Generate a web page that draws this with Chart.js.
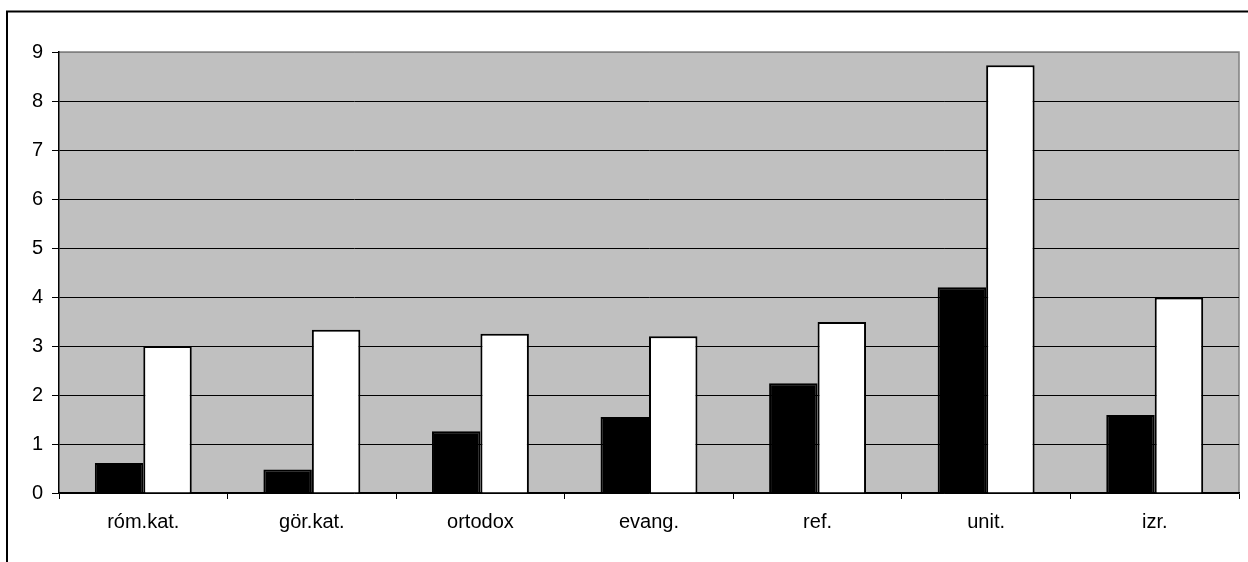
<!DOCTYPE html>
<html>
<head>
<meta charset="utf-8">
<script src="https://cdn.jsdelivr.net/npm/chart.js@4/dist/chart.umd.min.js"></script>
<style>
    html, body { margin: 0; padding: 0; background: #fff; }
    #wrap { width: 1248px; height: 562px; }
</style>
</head>
<body>
<div id="wrap"><canvas id="chart" width="1248" height="562"></canvas></div>
<script>
// categories and the two series
const categories = ['róm.kat.', 'gör.kat.', 'ortodox', 'evang.', 'ref.', 'unit.', 'izr.'];
const blackValues = [0.61, 0.48, 1.26, 1.55, 2.24, 4.2, 1.59];
const whiteValues = [3.0, 3.33, 3.25, 3.2, 3.49, 8.73, 3.99];
const yMin = 0;
const yMax = 9;

// gray plot area, gray top/right border and the outer frame
const plotFrame = {
    id: 'plotFrame',
    beforeDraw(chart) {
        const { ctx, chartArea: a } = chart;
        ctx.save();
        ctx.fillStyle = '#C0C0C0';
        ctx.fillRect(a.left, a.top, a.right - a.left, a.bottom - a.top);
        ctx.strokeStyle = '#808080';
        ctx.lineWidth = 1.5;
        ctx.beginPath();
        ctx.moveTo(a.left, a.top);
        ctx.lineTo(a.right, a.top);
        ctx.lineTo(a.right, a.bottom);
        ctx.stroke();
        // outer chart border (only top and left are inside the picture)
        ctx.strokeStyle = '#000';
        ctx.lineWidth = 2;
        ctx.beginPath();
        ctx.moveTo(7, 600);
        ctx.lineTo(7, 11.5);
        ctx.lineTo(1300, 11.5);
        ctx.stroke();
        ctx.restore();
    }
};

const ctx = document.getElementById('chart').getContext('2d');
new Chart(ctx, {
    type: 'bar',
    data: {
        labels: categories,
        datasets: [{
            label: 'A',
            data: blackValues,
            backgroundColor: '#000',
            borderColor: '#000',
            borderWidth: 2,
            categoryPercentage: 0.575,
            barPercentage: 1.0
        }, {
            label: 'B',
            data: whiteValues,
            backgroundColor: '#fff',
            borderColor: '#000',
            borderWidth: 2,
            categoryPercentage: 0.575,
            barPercentage: 1.0
        }]
    },
    options: {
        responsive: false,
        animation: false,
        layout: {
            padding: { top: 52, right: 9, left: 0, bottom: 0 }
        },
        scales: {
            x: {
                offset: true,
                grid: {
                    offset: true,
                    drawOnChartArea: false,
                    drawTicks: true,
                    tickLength: 6,
                    color: '#000',
                    lineWidth: 1
                },
                border: { color: '#000', width: 1.5 },
                ticks: {
                    color: '#000',
                    padding: 11,
                    font: { family: '"Liberation Sans", Arial, sans-serif', size: 20 }
                },
                afterFit(scale) { scale.height = 69; }
            },
            y: {
                min: yMin,
                max: yMax,
                grid: {
                    color: (c) => (c.tick && c.tick.value === yMax ? '#808080' : '#000'),
                    tickColor: '#000',
                    lineWidth: 1,
                    tickLength: 7
                },
                border: { color: '#000', width: 1.5 },
                ticks: {
                    stepSize: 1,
                    color: '#000',
                    padding: 9,
                    font: { family: '"Liberation Sans", Arial, sans-serif', size: 20 }
                },
                afterFit(scale) { scale.width = 59; }
            }
        },
        plugins: {
            legend: { display: false },
            title: { display: false },
            tooltip: { enabled: false }
        }
    },
    plugins: [plotFrame]
});
</script>
</body>
</html>
